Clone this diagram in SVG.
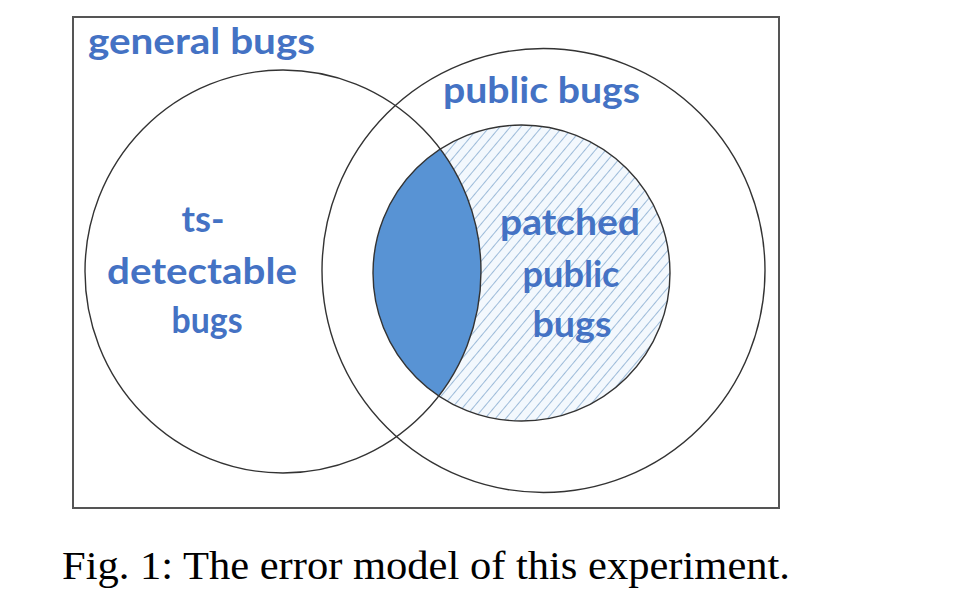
<svg xmlns="http://www.w3.org/2000/svg" width="960" height="602" viewBox="0 0 960 602">
<style>
.lbl{font-family:Lato,"Open Sans","Liberation Sans",sans-serif;font-weight:700;fill:#4472C4;font-size:37px;text-anchor:middle}
.outline{fill:none;stroke:#333;stroke-width:1.4}
</style>
<defs>
<pattern id="hatch" width="8" height="8" patternUnits="userSpaceOnUse" patternTransform="rotate(40)">
<rect width="8" height="8" fill="#f3f8fd"/>
<line x1="0" y1="0" x2="0" y2="8" stroke="#9dbbd9" stroke-width="2"/>
</pattern>
<clipPath id="leftClip"><ellipse cx="283" cy="271.5" rx="198" ry="201.5"/></clipPath>
</defs>
<rect width="960" height="602" fill="#fff"/>
<g id="universe">
<rect x="73" y="17" width="706" height="491" fill="none" stroke="#555" stroke-width="2"/>
<text class="lbl" x="201.5" y="54" textLength="227" lengthAdjust="spacingAndGlyphs">general bugs</text>
</g>
<g id="public-bugs">
<ellipse class="outline" cx="543.5" cy="270.5" rx="221.5" ry="222"/>
<text class="lbl" x="541.5" y="103" textLength="197" lengthAdjust="spacingAndGlyphs">public bugs</text>
</g>
<g id="patched-public-bugs">
<ellipse cx="521.5" cy="273" rx="148.5" ry="148" fill="url(#hatch)"/>
<ellipse cx="521.5" cy="273" rx="148.5" ry="148" fill="#5893d4" clip-path="url(#leftClip)"/>
<ellipse class="outline" cx="521.5" cy="273" rx="148.5" ry="148"/>
<text class="lbl" x="570" y="235" textLength="140" lengthAdjust="spacingAndGlyphs">patched</text>
<text class="lbl" x="571" y="287" textLength="97" lengthAdjust="spacingAndGlyphs">public</text>
<text class="lbl" x="572" y="337" textLength="79" lengthAdjust="spacingAndGlyphs">bugs</text>
</g>
<g id="ts-detectable-bugs">
<ellipse class="outline" cx="283" cy="271.5" rx="198" ry="201.5"/>
<text class="lbl" x="203" y="232" textLength="43" lengthAdjust="spacingAndGlyphs">ts-</text>
<text class="lbl" x="202" y="284" textLength="190" lengthAdjust="spacingAndGlyphs">detectable</text>
<text class="lbl" x="207" y="333" textLength="71" lengthAdjust="spacingAndGlyphs">bugs</text>
</g>
<g id="connectors"/>
<text x="62" y="579" font-family="'Liberation Serif','Times New Roman',serif" font-size="39" fill="#000" textLength="728" lengthAdjust="spacingAndGlyphs">Fig. 1: The error model of this experiment.</text>
</svg>
